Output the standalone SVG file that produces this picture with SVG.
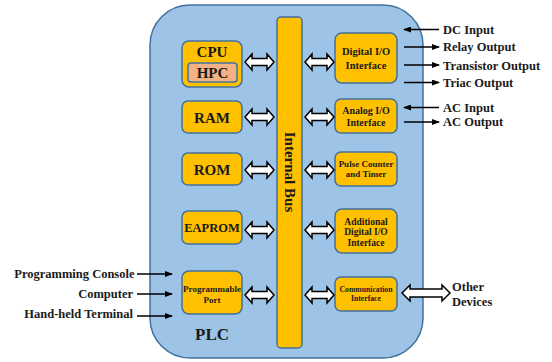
<svg xmlns="http://www.w3.org/2000/svg" width="552" height="362" viewBox="0 0 552 362">
<style>
text{font-family:"Liberation Serif","Times New Roman",serif;font-weight:bold;fill:#1a1a1a}
.box{fill:#FFC000;stroke:#41719C;stroke-width:1.5}
.m{text-anchor:middle}
.e{text-anchor:end}
.ln{stroke:#000;stroke-width:1.3;fill:none}
.da{fill:#fff;stroke:#000;stroke-width:1.5;stroke-linejoin:miter}
.lb{font-size:12.5px}
</style>
<defs>
<marker id="ah" markerWidth="8" markerHeight="6" refX="7" refY="3" orient="auto" markerUnits="userSpaceOnUse">
<path d="M0,0 L8,3 L0,6 Z" fill="#000"/>
</marker>
<path id="dbl" d="M0,0 L7,-8 L7,-3.5 L22,-3.5 L22,-8 L29,0 L22,8 L22,3.5 L7,3.5 L7,8 Z"/>
</defs>
<g id="plc">
<rect x="150" y="5" width="273" height="353" rx="40" fill="#9DC3E6" stroke="#41719C" stroke-width="1.5"/>
<text x="212" y="340" class="m" font-size="17">PLC</text>
</g>
<g id="bus">
<rect x="277" y="17" width="25" height="331" rx="4" class="box"/>
<text transform="translate(284.5,172) rotate(90)" class="m" font-size="15">Internal Bus</text>
</g>
<g id="cpu">
<rect x="182" y="41" width="60" height="46" rx="7" class="box"/>
<text x="212" y="57" class="m" font-size="15">CPU</text>
<rect x="188" y="63" width="49" height="19" rx="3" fill="#F4B183" stroke="#41719C" stroke-width="1.5"/>
<text x="212.5" y="78" class="m" font-size="15">HPC</text>
</g>
<g id="ram">
<rect x="182" y="101" width="60" height="32" rx="6" class="box"/>
<text x="212" y="123" class="m" font-size="15">RAM</text>
</g>
<g id="rom">
<rect x="182" y="153" width="60" height="32" rx="6" class="box"/>
<text x="212" y="175" class="m" font-size="15">ROM</text>
</g>
<g id="eaprom">
<rect x="182" y="211" width="60" height="33" rx="6" class="box"/>
<text x="212" y="232" class="m" font-size="12.5">EAPROM</text>
</g>
<g id="progport">
<rect x="182" y="271" width="60" height="43" rx="7" class="box"/>
<text x="212" y="292" class="m" font-size="9">Programmable</text>
<text x="212" y="302.5" class="m" font-size="9">Port</text>
</g>
<g id="digio">
<rect x="335" y="33" width="62" height="50" rx="7" class="box"/>
<text x="366" y="55" class="m" font-size="10.5">Digital I/O</text>
<text x="366" y="68.5" class="m" font-size="10.5">Interface</text>
</g>
<g id="anaio">
<rect x="335" y="99" width="62" height="34" rx="6" class="box"/>
<text x="366" y="113.5" class="m" font-size="10">Analog I/O</text>
<text x="366" y="126" class="m" font-size="10">Interface</text>
</g>
<g id="pulse">
<rect x="335" y="152" width="62" height="34" rx="6" class="box"/>
<text x="366" y="167" class="m" font-size="9">Pulse Counter</text>
<text x="366" y="177" class="m" font-size="9">and Timer</text>
</g>
<g id="adddig">
<rect x="335" y="209" width="62" height="44" rx="7" class="box"/>
<text x="366" y="224.5" class="m" font-size="9.5">Additional</text>
<text x="366" y="235" class="m" font-size="9.5">Digital I/O</text>
<text x="366" y="245.5" class="m" font-size="9.5">Interface</text>
</g>
<g id="comm">
<rect x="335" y="277" width="62" height="34" rx="6" class="box"/>
<text x="366" y="292" class="m" font-size="7.7">Communication</text>
<text x="366" y="300.5" class="m" font-size="7.7">Interface</text>
</g>
<g id="ext-labels">
<text x="443" y="33.5" class="lb">DC Input</text>
<text x="443" y="51" class="lb">Relay Output</text>
<text x="443" y="69.5" class="lb">Transistor Output</text>
<text x="443" y="86.5" class="lb">Triac Output</text>
<text x="443" y="111.5" class="lb">AC Input</text>
<text x="443" y="126" class="lb">AC Output</text>
<text x="134.5" y="278" class="e lb">Programming Console</text>
<text x="133" y="297.5" class="e lb">Computer</text>
<text x="133" y="318" class="e lb">Hand-held Terminal</text>
<text x="452" y="291" class="lb">Other</text>
<text x="452" y="305.5" class="lb">Devices</text>
</g>
<g id="connectors">
<use href="#dbl" x="245" y="62" class="da"/>
<use href="#dbl" x="245" y="117" class="da"/>
<use href="#dbl" x="245" y="170" class="da"/>
<use href="#dbl" x="245" y="230" class="da"/>
<use href="#dbl" x="245" y="295" class="da"/>
<use href="#dbl" x="305" y="62" class="da"/>
<use href="#dbl" x="305" y="117" class="da"/>
<use href="#dbl" x="305" y="170" class="da"/>
<use href="#dbl" x="305" y="230" class="da"/>
<use href="#dbl" x="305" y="295" class="da"/>
<path class="da" d="M402,293 L410,285 L410,289 L442,289 L442,285 L450,293 L442,301 L442,297 L410,297 L410,301 Z"/>
<line class="ln" x1="439" y1="29.5" x2="404" y2="29.5" marker-end="url(#ah)"/>
<line class="ln" x1="404" y1="47" x2="439" y2="47" marker-end="url(#ah)"/>
<line class="ln" x1="404" y1="65" x2="439" y2="65" marker-end="url(#ah)"/>
<line class="ln" x1="404" y1="82.5" x2="439" y2="82.5" marker-end="url(#ah)"/>
<line class="ln" x1="439" y1="107.5" x2="404" y2="107.5" marker-end="url(#ah)"/>
<line class="ln" x1="404" y1="122" x2="439" y2="122" marker-end="url(#ah)"/>
<line class="ln" x1="137" y1="274" x2="172" y2="274" marker-end="url(#ah)"/>
<line class="ln" x1="137" y1="294" x2="172" y2="294" marker-end="url(#ah)"/>
<line class="ln" x1="137" y1="316" x2="172" y2="316" marker-end="url(#ah)"/>
</g>
</svg>
